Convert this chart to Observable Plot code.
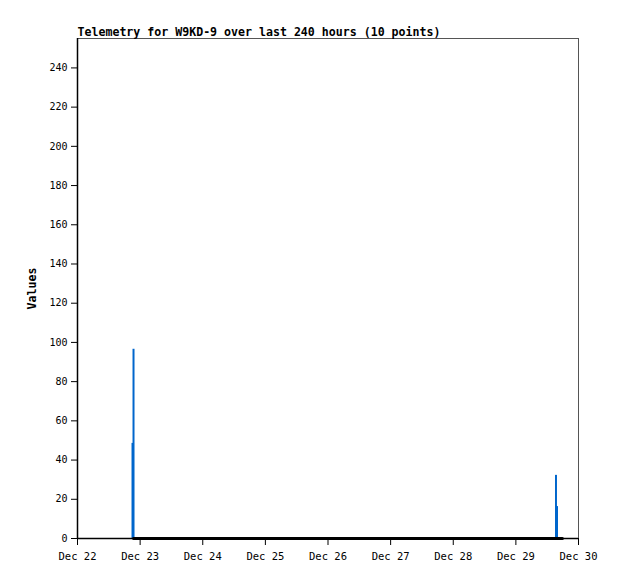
<!DOCTYPE html>
<html>
<head>
<meta charset="utf-8">
<script src="https://cdn.jsdelivr.net/npm/d3@7"></script>
<script src="https://cdn.jsdelivr.net/npm/@observablehq/plot@0.6"></script>
<style>
  html, body { margin: 0; padding: 0; background: #fff; }
</style>
</head>
<body>
<div id="chart"></div>
<script>
const title = "Telemetry for W9KD-9 over last 240 hours (10 points)";
const yLabel = "Values";

// Telemetry samples (UTC) and their values
const sampleTimes = [
  "2024-12-22T21:05:00Z",
  "2024-12-22T21:28:00Z",
  "2024-12-29T15:22:00Z",
  "2024-12-29T15:45:00Z"
];
const sampleValues = [48.5, 96.5, 32.2, 16.3];

// Zero-valued channel drawn along the baseline
const zeroTimes = ["2024-12-22T21:30:00Z", "2024-12-29T17:50:00Z"];
const zeroValues = [0, 0];

const xDomain = ["2024-12-22T00:00:00Z", "2024-12-30T00:00:00Z"];
const xTicks = ["2024-12-22", "2024-12-23", "2024-12-24", "2024-12-25",
                "2024-12-26", "2024-12-27", "2024-12-28", "2024-12-29", "2024-12-30"];
const yTicks = [0, 20, 40, 60, 80, 100, 120, 140, 160, 180, 200, 220, 240];
const yMax = 255;

const samples = sampleTimes.map((t, i) => ({time: new Date(t), value: sampleValues[i]}));
const zeros = zeroTimes.map((t, i) => ({time: new Date(t), value: zeroValues[i]}));

const fmt = d3.utcFormat("%b %d");

const chart = Plot.plot({
  width: 618,
  height: 579,
  marginLeft: 77,
  marginRight: 40,
  marginTop: 38,
  marginBottom: 41,
  style: {fontFamily: "DejaVu Sans Mono", fontSize: "10px", background: "#fff", color: "#000", overflow: "visible"},
  x: {type: "utc", domain: xDomain.map(d => new Date(d))},
  y: {domain: [0, yMax]},
  marks: [
    Plot.frame({stroke: "#555", strokeWidth: 1}),
    Plot.ruleX(samples, {x: "time", y1: 0, y2: "value", stroke: "#0066cc", strokeWidth: 2}),
    Plot.line(zeros, {x: "time", y: "value", stroke: "#000", strokeWidth: 3}),
    Plot.axisX({
      ticks: xTicks.map(d => new Date(d + "T00:00:00Z")),
      tickFormat: d => fmt(d),
      tickSize: 7, tickPadding: 7, label: null, stroke: "#000", fontSize: 10.5
    }),
    Plot.axisY({ticks: yTicks, tickSize: 6, tickPadding: 4, label: null, fontSize: 10}),
    Plot.ruleX([new Date(xDomain[0])], {stroke: "#000", strokeWidth: 1.5}),
    Plot.ruleY([0], {stroke: "#000", strokeWidth: 1.5}),
    Plot.text([title], {frameAnchor: "top-left", dy: -3, textAnchor: "start", lineAnchor: "bottom",
      fontWeight: "bold", fontSize: 11.6, fill: "#000"}),
    Plot.text([yLabel], {frameAnchor: "left", dx: -45, rotate: -90, textAnchor: "middle",
      fontWeight: "bold", fontSize: 11.6, fill: "#000"})
  ]
});

document.getElementById("chart").appendChild(chart);
</script>
</body>
</html>
